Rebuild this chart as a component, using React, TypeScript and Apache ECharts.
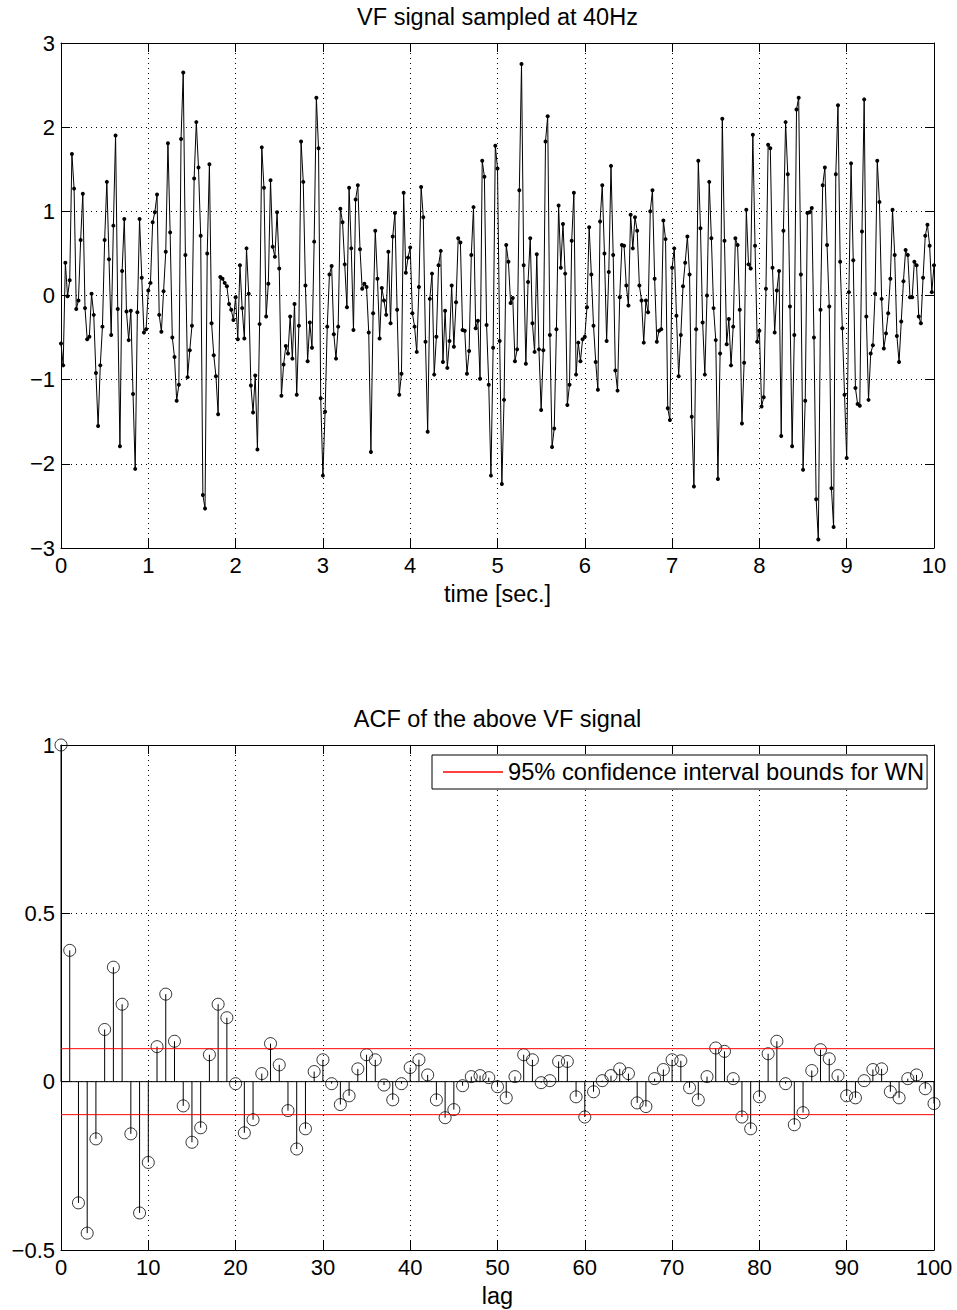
import React, { useEffect, useRef } from "react";
import * as echarts from "echarts";

const SAMPLE_RATE = 40;
const VF_SIGNAL: number[] = [
  -0.57,-0.83,0.39,-0.01,0.18,1.68,1.27,-0.16,-0.06,0.66,1.21,-0.15,-0.52,-0.49,0.02,-0.23,-0.92,-1.55,-0.83,-0.37,
  0.66,1.35,0.43,-0.47,0.83,1.90,-0.16,-1.79,0.29,0.91,-0.19,-0.53,-0.18,-1.17,-2.06,-0.20,0.91,0.21,-0.44,-0.40,
  0.06,0.15,0.87,0.99,1.20,-0.23,-0.43,0.05,0.52,1.81,0.75,-0.50,-0.73,-1.25,-1.06,1.86,2.65,0.48,-0.97,-0.65,
  -0.36,1.39,2.06,1.52,0.71,-2.37,-2.53,0.50,1.56,-0.33,-0.71,-0.96,-1.41,0.22,0.20,0.15,0.11,-0.10,-0.17,-0.29,
  -0.02,-0.52,0.36,-0.15,-0.51,0.56,0.02,-1.07,-1.39,-0.95,-1.83,-0.34,1.76,1.28,-0.25,0.14,1.37,0.58,0.46,0.99,
  0.32,-1.19,-0.82,-0.60,-0.69,-0.25,-0.75,-0.10,-1.18,-0.36,1.83,1.35,0.12,-0.78,-0.32,-0.62,0.64,2.35,1.75,-1.22,
  -2.14,-1.38,-0.37,0.25,0.35,-0.46,-0.75,-0.37,1.03,0.87,0.37,-0.14,1.28,0.56,-0.41,1.14,1.31,0.55,0.08,0.14,
  0.10,-0.44,-1.86,-0.21,0.77,0.20,-0.51,0.09,-0.06,-0.23,0.52,-0.33,0.70,0.98,-0.17,-1.18,-0.93,1.22,0.27,0.45,
  0.57,-0.21,-0.37,-0.67,0.10,1.29,0.93,-0.55,-1.62,-0.04,0.26,-0.94,-0.49,0.36,0.53,-0.79,-0.18,-0.86,-0.54,0.12,
  -0.61,-0.08,0.68,0.63,-0.41,-0.42,-0.93,-0.66,0.48,1.05,-0.39,-0.30,-0.99,1.60,1.41,-0.35,-1.06,-2.14,-0.62,1.78,
  1.51,-0.54,-2.24,-1.24,0.60,0.40,-0.09,-0.03,-0.78,-0.64,1.25,2.75,0.36,-0.81,0.16,0.68,-0.33,-0.67,0.49,-0.64,
  -1.36,-0.65,1.83,2.13,-0.47,-1.80,-1.58,-0.40,1.07,0.33,0.85,0.26,-1.30,-1.06,0.65,1.22,-0.94,-0.56,-0.78,-0.52,
  -0.49,-0.14,0.81,0.25,-0.36,-0.79,-1.12,0.88,1.31,0.50,-0.54,0.28,1.54,0.48,-0.89,-1.13,-0.02,0.60,0.59,0.12,
  -0.12,0.96,0.56,0.93,0.77,0.12,-0.06,-0.56,-0.06,-0.20,1.00,1.25,0.20,-0.55,-0.42,-0.40,0.89,0.67,-1.34,-1.48,
  0.33,0.56,-0.24,-0.96,-0.47,0.11,0.39,0.70,0.25,-1.44,-2.27,-0.40,1.60,0.80,-0.32,-0.94,0.00,1.35,0.68,-0.15,
  -0.53,-2.18,-0.69,2.10,0.65,-0.58,-0.28,-0.83,-0.37,0.68,0.60,-0.17,-1.52,-0.80,1.02,0.37,0.32,1.91,0.59,-0.55,
  -0.42,-1.32,-1.21,0.08,1.79,1.75,0.33,-0.44,0.06,0.29,-1.67,0.77,2.06,1.44,-0.13,-1.79,-0.47,2.21,2.35,0.25,
  -2.07,-1.25,0.98,0.99,1.04,-0.50,-2.42,-2.90,-0.17,1.31,1.52,0.60,-0.13,-2.29,-2.75,1.44,2.26,0.40,-0.39,-1.18,
  -1.93,0.04,1.57,0.42,-1.10,-1.29,-1.31,0.76,2.33,-0.25,-1.24,-0.69,-0.59,0.02,1.60,1.11,-0.04,-0.63,-0.45,-0.21,
  0.20,1.02,0.48,-0.48,-0.79,-0.31,0.17,0.54,0.48,-0.02,-0.02,0.40,0.36,-0.25,-0.33,0.21,0.71,0.84,0.59,0.04,
  0.36,
];

const ACF_VALUES: number[] = [
  1.00, 0.39, -0.36, -0.45, -0.17, 0.155, 0.34, 0.23, -0.155, -0.39,
  -0.24, 0.104, 0.26, 0.12, -0.072, -0.18, -0.137, 0.08, 0.23, 0.19,
  -0.006, -0.152, -0.113, 0.024, 0.113, 0.05, -0.086, -0.2, -0.14, 0.03,
  0.065, -0.006, -0.068, -0.042, 0.038, 0.08, 0.065, -0.01, -0.054, -0.006,
  0.042, 0.065, 0.02, -0.054, -0.107, -0.083, -0.012, 0.015, 0.018, 0.012,
  -0.015, -0.048, 0.015, 0.08, 0.065, -0.003, 0.003, 0.06, 0.06, -0.045,
  -0.105, -0.03, 0.003, 0.018, 0.038, 0.024, -0.063, -0.074, 0.009, 0.036,
  0.065, 0.062, -0.018, -0.054, 0.015, 0.1, 0.09, 0.009, -0.105, -0.14,
  -0.045, 0.083, 0.12, -0.006, -0.128, -0.092, 0.033, 0.095, 0.068, 0.018,
  -0.042, -0.048, 0.003, 0.036, 0.038, -0.03, -0.048, 0.009, 0.02, -0.021,
  -0.065,
];

const CI_BOUND = 0.098;
const CI_NAME = "95% confidence interval bounds for WN";
const TOP_TITLE = "VF signal sampled at 40Hz";
const BOTTOM_TITLE = "ACF of the above VF signal";
const TOP_XLABEL = "time [sec.]";
const BOTTOM_XLABEL = "lag";
const MAX_LAG = 100;
const MAX_TIME = 10;

const FONT = "'Liberation Sans', Arial, Helvetica, sans-serif";
const TICK_SIZE = 22;
const TEXT_SIZE = 23.5;
const LEGEND_SIZE = 23.7;

const minus = (v: number) => String(v).replace("-", "\u2212");

function makeAxes(gridIndex: number, xmin: number, xmax: number, xint: number, ymin: number, ymax: number, yint: number, xname: string) {
  const tick = { show: true, inside: true, length: 9, lineStyle: { color: "#000", width: 1 } };
  const split = { show: true, lineStyle: { color: "#000", width: 1, type: [1, 4] as any } };
  const xAxes = [
    {
      type: "value", gridIndex, min: xmin, max: xmax, interval: xint, position: "bottom",
      axisLine: { show: true, onZero: false, lineStyle: { color: "#000", width: 1 } },
      axisTick: tick, splitLine: split,
      axisLabel: { color: "#000", fontSize: TICK_SIZE, fontFamily: FONT, margin: 6, formatter: minus },
      name: xname, nameLocation: "middle", nameGap: 34,
      nameTextStyle: { color: "#000", fontSize: TEXT_SIZE, fontFamily: FONT },
    },
    {
      type: "value", gridIndex, min: xmin, max: xmax, interval: xint, position: "top",
      axisLine: { show: true, onZero: false, lineStyle: { color: "#000", width: 1 } },
      axisTick: tick, splitLine: { show: false }, axisLabel: { show: false },
    },
  ];
  const yAxes = [
    {
      type: "value", gridIndex, min: ymin, max: ymax, interval: yint, position: "left",
      axisLine: { show: true, onZero: false, lineStyle: { color: "#000", width: 1 } },
      axisTick: tick, splitLine: split,
      axisLabel: { color: "#000", fontSize: TICK_SIZE, fontFamily: FONT, margin: 6, formatter: minus },
    },
    {
      type: "value", gridIndex, min: ymin, max: ymax, interval: yint, position: "right",
      axisLine: { show: true, onZero: false, lineStyle: { color: "#000", width: 1 } },
      axisTick: tick, splitLine: { show: false }, axisLabel: { show: false },
    },
  ];
  return { xAxes, yAxes };
}

export default function App() {
  const ref = useRef<HTMLDivElement>(null);

  useEffect(() => {
    document.body.style.margin = "0";
    if (!ref.current) return;
    const chart = echarts.init(ref.current, undefined, { renderer: "svg" });

    const top = makeAxes(0, 0, MAX_TIME, 1, -3, 3, 1, TOP_XLABEL);
    const bot = makeAxes(1, 0, MAX_LAG, 10, -0.5, 1, 0.5, BOTTOM_XLABEL);

    const signalData = VF_SIGNAL.map((v, i) => [i / SAMPLE_RATE, v]);
    const acfData = ACF_VALUES.map((v, i) => [i, v]);

    chart.setOption({
      animation: false,
      backgroundColor: "#fff",
      grid: [
        { left: 61, top: 43, width: 873, height: 505, show: false, containLabel: false, outerBoundsMode: "none" },
        { left: 61, top: 745, width: 873, height: 505, show: false, containLabel: false, outerBoundsMode: "none" },
      ],
      xAxis: [...top.xAxes, ...bot.xAxes],
      yAxis: [...top.yAxes, ...bot.yAxes],
      legend: {
        data: [{ name: CI_NAME, icon: "rect" }],
        left: 432, top: 755,
        padding: [5, 3, 5, 11],
        itemWidth: 60, itemHeight: 1.5,
        borderColor: "#000", borderWidth: 1, backgroundColor: "#fff",
        textStyle: { color: "#000", fontSize: LEGEND_SIZE, fontFamily: FONT },
        selectedMode: false,
      },
      graphic: [
        {
          type: "text", x: 497.5, y: 17,
          style: { text: TOP_TITLE, fill: "#000", font: `${TEXT_SIZE}px ${FONT}`, textAlign: "center", textVerticalAlign: "middle" },
        },
        {
          type: "text", x: 497.5, y: 719,
          style: { text: BOTTOM_TITLE, fill: "#000", font: `${TEXT_SIZE}px ${FONT}`, textAlign: "center", textVerticalAlign: "middle" },
        },
      ],
      series: [
        {
          type: "line", name: "signal", xAxisIndex: 0, yAxisIndex: 0,
          data: signalData,
          lineStyle: { color: "#000", width: 1 },
          itemStyle: { color: "#000" },
          symbol: "circle", symbolSize: 4, showSymbol: true,
          z: 3,
        },
        {
          type: "line", name: "baseline", xAxisIndex: 2, yAxisIndex: 2,
          data: [[0, 0], [MAX_LAG, 0]],
          lineStyle: { color: "#000", width: 1 }, symbol: "none", z: 2,
        },
        {
          type: "custom", name: "stems", xAxisIndex: 2, yAxisIndex: 2,
          data: acfData,
          renderItem: (params: any, api: any) => {
            const x = api.value(0);
            const y = api.value(1);
            const p0 = api.coord([x, 0]);
            const p1 = api.coord([x, y]);
            return {
              type: "line",
              shape: { x1: p0[0], y1: p0[1], x2: p1[0], y2: p1[1] },
              style: { stroke: "#000", lineWidth: 1 },
            };
          },
          z: 3,
        },
        {
          type: "scatter", name: "acf", xAxisIndex: 2, yAxisIndex: 2,
          data: acfData,
          symbol: "circle", symbolSize: 12,
          itemStyle: { color: "rgba(0,0,0,0)", borderColor: "#000", borderWidth: 1 },
          z: 4,
        },
        {
          type: "line", name: CI_NAME, xAxisIndex: 2, yAxisIndex: 2,
          data: [[0, CI_BOUND], [MAX_LAG, CI_BOUND]],
          lineStyle: { color: "#ff0000", width: 1 }, itemStyle: { color: "#ff0000" },
          symbol: "none", z: 5,
        },
        {
          type: "line", name: CI_NAME, xAxisIndex: 2, yAxisIndex: 2,
          data: [[0, -CI_BOUND], [MAX_LAG, -CI_BOUND]],
          lineStyle: { color: "#ff0000", width: 1 }, itemStyle: { color: "#ff0000" },
          symbol: "none", z: 5,
        },
      ],
    });

    return () => chart.dispose();
  }, []);

  return <div ref={ref} style={{ width: 957, height: 1310 }} />;
}
